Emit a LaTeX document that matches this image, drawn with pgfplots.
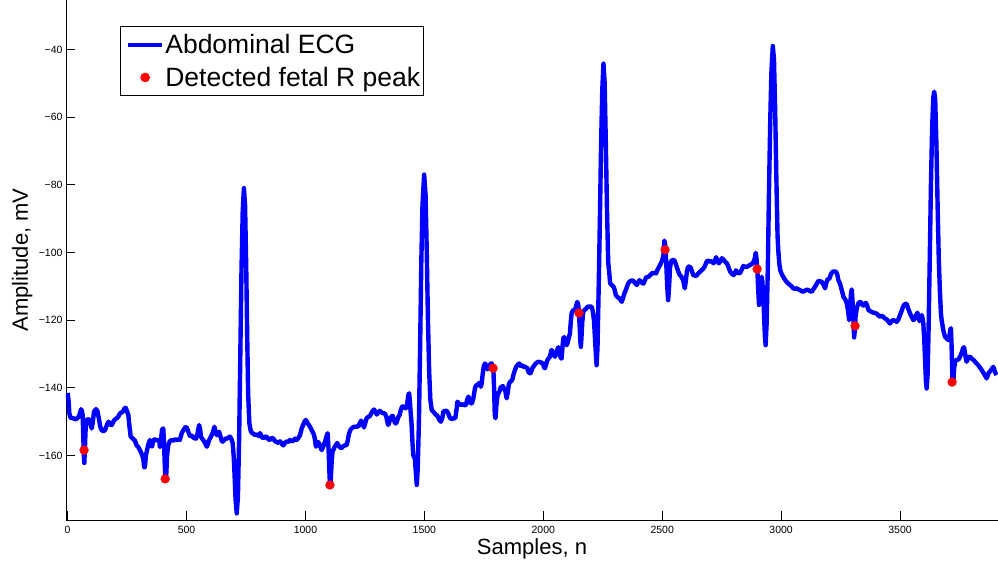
\documentclass[border=0pt]{standalone}
\usepackage{fontspec}
\setmainfont{Liberation Sans}
\usepackage{pgfplots}
\pgfplotsset{compat=1.18}
\definecolor{ecgblue}{RGB}{0,0,255}
\definecolor{peakred}{RGB}{255,0,0}
\begin{document}
\begin{tikzpicture}
\begin{axis}[
  name=ax,
  scale only axis,
  width=932pt, height=520pt,
  xmin=-7, xmax=3912, ymin=-179.05, ymax=-25.4,
  axis x line*=bottom, axis y line*=left,
  axis line style={line width=0.9pt, black, -},
  every outer x axis line/.append style={-},
  every outer y axis line/.append style={-},
  tick align=inside,
  major tick length=9pt,
  tick style={line width=0.9pt, black},
  xtick={0,500,1000,1500,2000,2500,3000,3500},
  xticklabels={0,500,1000,1500,2000,2500,3000,3500},
  ytick={-160,-140,-120,-100,-80,-60,-40},
  yticklabels={−160,−140,−120,−100,−80,−60,−40},
  tick label style={font=\fontsize{10.5}{12}\selectfont, black},
  xticklabel style={yshift=-3pt},
  xlabel={Samples, n},
  ylabel={Amplitude, mV},
  xlabel style={font=\fontsize{22}{26}\selectfont, at={(axis description cs:0.5,-0.0673)}, anchor=base},
  ylabel style={font=\fontsize{22}{26}\selectfont, at={(axis description cs:-0.0408,0.5)}, anchor=base},
  legend style={at={(axis description cs:0.058,0.95)}, anchor=north west,
    draw=black, line width=0.8pt, fill=white,
    font=\fontsize{26.5}{30}\selectfont,
    inner xsep=2pt, inner ysep=5pt, row sep=6pt,
    nodes={inner xsep=1pt, inner ysep=3pt},
    /tikz/every even column/.append style={column sep=1.5pt}},
  legend cell align=left,
  legend image code/.code={\path (0pt,0pt); \draw[mark repeat=2,mark phase=2,#1] plot coordinates {(3.5pt,0pt) (20.5pt,0pt) (37.5pt,0pt)};},
]
\addplot[color=ecgblue, line width=4.4pt, line join=round, mark=none] coordinates {
(0,-141.5) (4,-144) (7,-147.5) (12,-148.8) (24,-149) (35,-149.3) (45,-148.7) (52,-147.5) (56,-146.3) (60,-146.8)
(63,-148) (66,-155) (68,-160) (70,-162.2) (72,-159) (75,-153) (79,-149.5) (85,-149.3) (91,-149.4) (96,-150.5)
(101,-152) (106,-150) (111,-147) (119,-146.3) (125,-146.8) (131,-149) (137,-151.5) (143,-152.5) (150,-152.8) (157,-152.5)
(165,-151) (172,-150) (178,-150.8) (185,-151) (192,-150) (199,-149.3) (206,-149) (213,-148.5) (220,-147.5) (227,-147.3)
(234,-146.8) (240,-146) (244,-145.9) (249,-146.8) (255,-148) (260,-151.5) (265,-154.4) (274,-155) (283,-155.6) (290,-157)
(297,-157.5) (304,-158.4) (311,-159.5) (318,-161) (322,-163.5) (325,-163.4) (329,-160) (335,-158) (340,-156.5) (346,-155.4)
(351,-157.2) (355,-157.3) (360,-155.5) (367,-155.2) (375,-155.6) (380,-155.3) (385,-155.5) (388,-157.5) (393,-155) (397,-152.3)
(402,-152) (405,-156) (408,-162) (411,-167.2) (414,-166.5) (418,-160) (423,-156.9) (429,-155.8) (437,-155.4) (445,-155.6)
(452,-155.2) (460,-155.5) (466,-155.1) (472,-155.4) (479,-153.5) (485,-152.7) (489,-152.3) (494,-151.7) (500,-151.6) (505,-152.5)
(510,-153.5) (514,-154.2) (520,-154) (527,-154.6) (533,-154.9) (540,-155) (546,-153.5) (550,-152) (553,-151) (557,-152.3)
(561,-154.5) (565,-155) (571,-155.5) (578,-156.3) (585,-157.4) (590,-156.5) (595,-155.4) (602,-154.5) (610,-153.3) (617,-151.5)
(622,-153) (627,-154) (632,-153.3) (637,-153) (643,-154.5) (648,-155.7) (652,-155.9) (658,-155.4) (664,-155) (669,-155)
(675,-154.8) (682,-154.4) (688,-155) (694,-156.4) (698,-160) (702,-166) (706,-173) (711,-177.1) (716,-172) (721,-155)
(726,-130) (731,-105) (736,-88) (741,-81) (746,-86) (751,-105) (755,-125) (759,-142) (764,-150.5) (770,-152.8)
(776,-153.4) (782,-153.6) (789,-154) (795,-153.7) (802,-154.2) (809,-153.4) (816,-154.5) (823,-154.9) (830,-154.4) (837,-154.5)
(844,-155.2) (851,-155.4) (858,-154.8) (865,-155) (872,-155.8) (879,-156) (886,-156.3) (893,-155.8) (900,-156.5) (907,-157)
(914,-156.2) (921,-155.8) (928,-156) (935,-155.4) (942,-155.8) (949,-155.6) (956,-155) (963,-155.4) (970,-154.8) (977,-154)
(984,-152) (990,-151) (996,-150) (1001,-149.5) (1006,-150) (1012,-150.8) (1019,-151.5) (1026,-152.5) (1033,-153.4) (1038,-154.5)
(1044,-157.4) (1049,-156) (1054,-156) (1060,-157) (1068,-158.4) (1074,-157.5) (1078,-156.6) (1082,-156) (1086,-155) (1090,-154)
(1093,-153.4) (1097,-158) (1100,-164) (1103,-168.7) (1106,-167.5) (1110,-162) (1114,-158.6) (1117,-158.4) (1122,-157.5) (1127,-157)
(1133,-156.3) (1138,-156.9) (1145,-157.6) (1152,-157.8) (1158,-157.3) (1165,-157) (1173,-156.9) (1178,-155.5) (1183,-153.5) (1190,-152.3)
(1197,-151.8) (1204,-151.5) (1210,-151.5) (1217,-151.4) (1222,-151.5) (1228,-150.5) (1234,-149.7) (1240,-150.5) (1246,-151.7) (1251,-150.5)
(1257,-149) (1264,-148.6) (1271,-148.3) (1277,-147.5) (1283,-146.8) (1288,-146.4) (1294,-147) (1300,-147.9) (1306,-147.3) (1313,-146.8)
(1320,-147.3) (1327,-147.5) (1334,-147.6) (1340,-148.5) (1344,-150) (1348,-151) (1353,-150) (1358,-149) (1362,-148.4) (1367,-148.3)
(1372,-149.5) (1377,-150.5) (1381,-150.5) (1386,-149.6) (1391,-148.5) (1396,-148) (1401,-146.5) (1406,-145.6) (1411,-145.4) (1416,-145.8)
(1421,-146) (1425,-146) (1429,-144) (1433,-142) (1436,-141.6) (1439,-144) (1442,-147) (1446,-150.5) (1449,-155) (1453,-159.9)
(1457,-160.4) (1460,-161) (1464,-165) (1468,-168.7) (1472,-164) (1477,-150) (1482,-128) (1487,-103) (1492,-86) (1499,-77)
(1505,-83) (1510,-100) (1515,-120) (1520,-135) (1525,-143.5) (1531,-146.6) (1537,-147) (1543,-147.5) (1548,-148) (1552,-148)
(1557,-148.6) (1563,-149.5) (1569,-150) (1575,-149) (1580,-147) (1587,-146.8) (1594,-146.8) (1600,-147.5) (1605,-148.5) (1609,-149)
(1616,-149.2) (1623,-149) (1630,-149) (1634,-147) (1639,-144.1) (1645,-144.6) (1651,-145) (1657,-145) (1663,-144.8) (1669,-145.2)
(1675,-145) (1680,-143.5) (1685,-142.6) (1690,-143.5) (1695,-144.6) (1700,-144.6) (1706,-143) (1713,-140) (1717,-139.3) (1721,-139.2)
(1727,-138.8) (1733,-138.5) (1737,-139.7) (1741,-138.7) (1745,-136) (1750,-133.5) (1755,-132.8) (1760,-133.5) (1765,-134.5) (1769,-134.2)
(1774,-133.3) (1779,-132.9) (1783,-132.8) (1787,-133.5) (1790,-134.3) (1793,-140) (1796,-148) (1799,-149) (1803,-145) (1807,-142.5)
(1811,-141.6) (1816,-141) (1821,-139.8) (1825,-139.7) (1830,-139.5) (1835,-140.3) (1840,-140.8) (1843,-142) (1846,-143.1) (1850,-141.5)
(1855,-139) (1860,-138.2) (1865,-138) (1870,-137.5) (1875,-136) (1881,-134.7) (1886,-133.8) (1892,-133.2) (1899,-132.8) (1904,-133.5)
(1910,-133.3) (1916,-133.8) (1922,-133.7) (1928,-134) (1933,-134.2) (1937,-135.2) (1942,-135.7) (1947,-135.7) (1951,-134.8) (1955,-134)
(1958,-133.8) (1963,-133.3) (1968,-132.8) (1974,-132.5) (1979,-132.3) (1985,-132.4) (1990,-132.5) (1995,-132.6) (2000,-133.2) (2004,-134)
(2007,-134.2) (2012,-133) (2016,-132) (2021,-131.4) (2028,-130.8) (2032,-129.5) (2035,-128.8) (2040,-129.5) (2045,-130.3) (2049,-130.8)
(2054,-130) (2059,-128.7) (2063,-128) (2067,-129) (2071,-130.5) (2074,-131.3) (2077,-131.3) (2080,-128.5) (2084,-125.4) (2088,-125)
(2093,-126.5) (2098,-127.4) (2103,-126.5) (2108,-125) (2112,-123.9) (2115,-121) (2119,-118) (2124,-117.2) (2129,-117) (2133,-117)
(2138,-115.8) (2143,-114.6) (2147,-115.5) (2150,-117.9) (2153,-122) (2156,-126.5) (2158,-127.9) (2161,-124.5) (2164,-120.5) (2168,-117.5)
(2173,-117) (2178,-116.8) (2184,-116.2) (2189,-116) (2196,-116) (2203,-116) (2208,-117.3) (2213,-120) (2217,-125) (2221,-130)
(2224,-133.3) (2228,-128) (2233,-110) (2238,-90) (2243,-68) (2248,-52) (2253,-44.2) (2258,-50) (2263,-68) (2268,-88)
(2273,-103) (2278,-106.5) (2281,-109.1) (2288,-109.6) (2295,-110.1) (2300,-111) (2305,-112.6) (2312,-113.2) (2320,-113.6) (2325,-114)
(2330,-114.6) (2335,-113.5) (2340,-112.3) (2344,-111.6) (2350,-110.5) (2355,-109.5) (2358,-109.1) (2364,-108.5) (2370,-108.4) (2376,-108.2)
(2382,-108.7) (2388,-109.3) (2393,-109.6) (2399,-108.8) (2404,-108.2) (2409,-108.5) (2415,-109) (2421,-109.2) (2427,-108.3) (2431,-107.6)
(2435,-107.2) (2440,-107.3) (2445,-107) (2450,-106.6) (2455,-106.3) (2460,-106) (2465,-106.2) (2470,-106) (2474,-106.2) (2479,-105.3)
(2485,-104.5) (2491,-103.7) (2496,-103) (2500,-102.3) (2505,-100.8) (2509,-96.5) (2512,-97.5) (2514,-99.3) (2517,-103) (2521,-110)
(2525,-114.1) (2529,-110) (2533,-104.5) (2537,-102.7) (2542,-102.3) (2550,-102.2) (2555,-103) (2561,-104.2) (2567,-105.5) (2574,-106.7)
(2581,-107.2) (2588,-108.2) (2592,-109.5) (2595,-110.6) (2600,-108) (2604,-105.5) (2609,-104.2) (2614,-104.2) (2620,-104.5) (2626,-105.8)
(2631,-106.7) (2637,-106.8) (2642,-107) (2648,-106.5) (2654,-106) (2659,-105.7) (2664,-105.3) (2670,-105) (2675,-104.5) (2680,-104)
(2685,-103) (2690,-102.4) (2695,-102.5) (2700,-102.7) (2705,-102.6) (2711,-102.8) (2716,-103.2) (2721,-102.5) (2727,-101.4) (2732,-102.5)
(2738,-103.2) (2745,-102.6) (2751,-101.7) (2756,-102) (2762,-102.5) (2768,-103) (2772,-103.2) (2777,-104) (2782,-105) (2786,-105.7)
(2792,-106.2) (2800,-106.7) (2805,-106.2) (2810,-105.3) (2816,-105.8) (2822,-106.2) (2828,-106) (2834,-105.1) (2841,-104) (2848,-104.2)
(2855,-104.3) (2862,-104) (2869,-103.7) (2875,-103.5) (2880,-103.2) (2886,-102.5) (2890,-101.5) (2893,-100.1) (2896,-101.5) (2900,-105)
(2903,-110) (2907,-115.5) (2910,-112) (2914,-108.5) (2918,-107.2) (2921,-108.5) (2925,-113) (2929,-120) (2932,-125) (2935,-127.4)
(2939,-121) (2944,-105) (2949,-82) (2954,-62) (2959,-47) (2965,-39) (2970,-43) (2975,-58) (2980,-78) (2985,-95)
(2988,-99.3) (2992,-103) (2996,-105.2) (3002,-106.3) (3009,-107.2) (3016,-108) (3023,-108.7) (3030,-109.2) (3037,-109.6) (3044,-110)
(3051,-110.6) (3058,-110.7) (3065,-110.6) (3072,-110.9) (3079,-111.1) (3086,-111.4) (3093,-111.6) (3100,-111.3) (3107,-111) (3114,-111.1)
(3121,-111.4) (3129,-111.6) (3136,-110.8) (3143,-110.1) (3150,-109.2) (3157,-108.4) (3164,-108.5) (3171,-108.7) (3178,-109.5) (3185,-110.6)
(3190,-109) (3195,-108) (3203,-107.7) (3209,-106.5) (3216,-105.7) (3224,-105.6) (3231,-105.7) (3236,-106.5) (3241,-108.2) (3248,-109.3)
(3255,-111.1) (3262,-113.1) (3269,-113.8) (3276,-115) (3281,-117) (3286,-120) (3290,-116) (3294,-112) (3297,-110.9) (3300,-114)
(3304,-120) (3307,-125.1) (3310,-123) (3313,-119) (3318,-116.5) (3325,-115) (3330,-114.7) (3335,-114.6) (3340,-115.3) (3346,-115.7)
(3351,-115.2) (3357,-114.9) (3362,-115.8) (3367,-117) (3374,-117.3) (3381,-117.6) (3388,-117.8) (3395,-117.9) (3402,-118.1) (3409,-118.6)
(3416,-119) (3423,-118.7) (3430,-119) (3437,-119.5) (3444,-119.8) (3451,-120.4) (3458,-121) (3465,-120.2) (3472,-120) (3479,-120.2)
(3486,-120.5) (3493,-119.8) (3500,-118.5) (3507,-117.2) (3512,-116.2) (3517,-115.5) (3522,-115.2) (3528,-115.2) (3534,-116.5) (3542,-118)
(3549,-119) (3556,-120) (3563,-119.5) (3568,-118.5) (3573,-117.8) (3578,-119) (3582,-120.3) (3586,-119.5) (3591,-118.5) (3595,-119.5)
(3598,-121) (3602,-126) (3606,-133) (3609,-138) (3612,-140.2) (3616,-136) (3620,-123) (3625,-102) (3630,-80) (3635,-63)
(3640,-54) (3644,-52.5) (3648,-55) (3653,-68) (3658,-86) (3663,-102) (3668,-112) (3672,-118) (3675,-120) (3682,-123)
(3689,-124.9) (3696,-125.4) (3703,-125.9) (3708,-124.5) (3712,-122.6) (3714,-122.4) (3717,-128) (3719,-134) (3721,-138.5) (3724,-138.3)
(3728,-134) (3733,-131.8) (3740,-131.8) (3747,-131.5) (3754,-130.5) (3760,-129.5) (3765,-128.3) (3769,-128) (3773,-129.5) (3777,-131.5)
(3780,-132.3) (3785,-131.5) (3790,-130.9) (3794,-130.8) (3799,-131.2) (3806,-131.6) (3812,-132) (3817,-132.4) (3822,-132.8) (3829,-133.3)
(3836,-134) (3843,-134.7) (3850,-135.5) (3857,-136.3) (3864,-137.2) (3868,-136.5) (3873,-135.5) (3878,-135.2) (3885,-134.5) (3892,-133.8)
(3896,-134.5) (3900,-135.5) (3906,-136.2)
};
\addlegendentry{Abdominal ECG}
\addplot[only marks, mark=*, mark size=4.4pt, color=peakred, fill=peakred] coordinates {
(69,-158.4) (410,-166.9) (1103,-168.7) (1789,-134.2) (2150,-117.9) (2512,-99.2) (2899,-104.9) (3311,-121.7) (3719,-138.3)
};
\addlegendentry{Detected fetal R peak}
\end{axis}
\pgfresetboundingbox
\path[use as bounding box] ([xshift=-66pt,yshift=-44pt]ax.south west) rectangle (ax.north east);
\end{tikzpicture}
\end{document}
